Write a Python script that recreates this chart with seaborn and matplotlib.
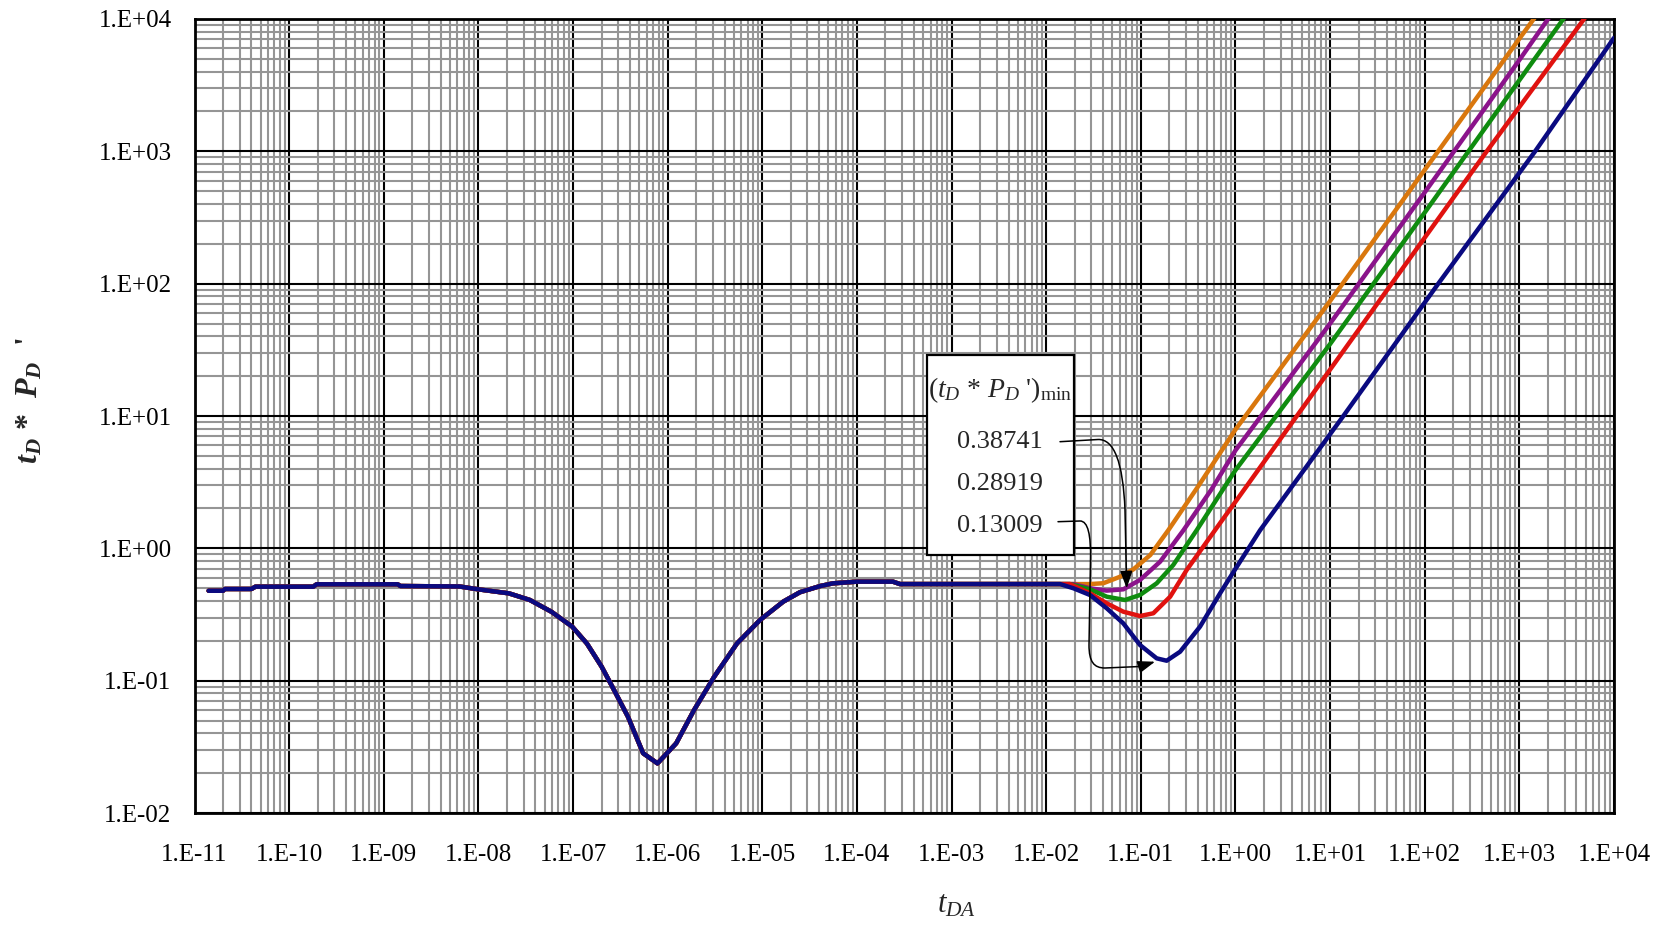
import numpy as np
import pandas as pd
import matplotlib
matplotlib.use("Agg")
import matplotlib.pyplot as plt
import seaborn as sns
from matplotlib.ticker import LogLocator, FuncFormatter, NullFormatter
from matplotlib.patches import Rectangle, FancyArrowPatch
from matplotlib.path import Path

# ---------------- data ----------------
# shared early-time part of all five curves
tda_common = [1.41e-11, 2.0e-11, 2.1e-11, 4.0e-11, 4.4e-11, 1.8e-10, 1.95e-10,
              1.4e-9, 1.5e-9, 6.3e-9, 1.0e-8, 2.1e-8, 3.5e-8, 5.9e-8, 9.8e-8,
              1.4e-7, 2.0e-7, 2.6e-7, 3.8e-7, 5.5e-7, 7.8e-7, 1.23e-6, 1.9e-6,
              3.1e-6, 5.4e-6, 9.5e-6, 1.66e-5, 2.5e-5, 4.1e-5, 5.6e-5, 1.0e-4,
              2.4e-4, 2.85e-4, 1.4e-2]
dp_common = [0.478, 0.478, 0.493, 0.493, 0.513, 0.513, 0.535,
             0.535, 0.519, 0.515, 0.49, 0.457, 0.407, 0.332, 0.256,
             0.191, 0.128, 0.090, 0.0535, 0.0283, 0.0237, 0.0336, 0.060,
             0.107, 0.191, 0.288, 0.395, 0.466, 0.519, 0.544, 0.56,
             0.56, 0.537, 0.537]

# late-time parts
tda_orange = [0.02, 0.029, 0.0402, 0.0603, 0.0834, 0.126, 0.195, 0.398, 1.0, 10.0, 100.0, 1000.0, 2000.0]
dp_orange = [0.537, 0.537, 0.545, 0.61, 0.694, 0.891, 1.37, 2.9, 7.9, 74.0, 725.0, 7100.0, 14000.0]

tda_purple = [0.0194, 0.029, 0.0437, 0.0653, 0.098, 0.16, 0.282, 0.56, 1.0, 10.0, 100.0, 1000.0, 2500.0]
dp_purple = [0.537, 0.499, 0.479, 0.49, 0.577, 0.793, 1.37, 2.8, 5.5, 50.0, 490.0, 4900.0, 12500.0]

tda_green = [0.0178, 0.029, 0.0437, 0.068, 0.098, 0.147, 0.22, 0.389, 1.0, 10.0, 100.0, 1000.0, 3500.0]
dp_green = [0.537, 0.49, 0.431, 0.407, 0.444, 0.544, 0.748, 1.37, 3.9, 35.0, 345.0, 3450.0, 12000.0]

tda_red = [0.0178, 0.029, 0.0437, 0.0653, 0.098, 0.1355, 0.204, 0.305, 0.457, 0.687, 1.0, 4.45, 44.7, 452.0, 4830.0, 6310.0]
dp_red = [0.537, 0.457, 0.384, 0.332, 0.308, 0.323, 0.431, 0.686, 1.03, 1.55, 2.25, 10.0, 100.0, 1000.0, 10000.0, 13000.0]

tda_blue = [0.0194, 0.029, 0.0437, 0.0653, 0.098, 0.147, 0.1875, 0.26, 0.422, 0.687, 1.0, 1.82, 13.8, 139.0, 1466.0, 10000.0]
dp_blue = [0.499, 0.444, 0.352, 0.271, 0.186, 0.1475, 0.1415, 0.1655, 0.256, 0.457, 0.70, 1.37, 10.0, 100.0, 1000.0, 7200.0]

curve_names = ["Orange", "Purple", "Green", "Red", "Blue"]
curve_colors = ["#D9770D", "#8B138B", "#0F8C0F", "#E0120F", "#0A0A80"]
late_t = [tda_orange, tda_purple, tda_green, tda_red, tda_blue]
late_d = [dp_orange, dp_purple, dp_green, dp_red, dp_blue]

box_title = r"$(t_{D}$ * $P_{D}$ '$)_{\mathrm{min}}$"
box_values = ["0.38741", "0.28919", "0.13009"]
x_ticks = [10.0 ** e for e in range(-11, 5)]
y_ticks = [10.0 ** e for e in range(-2, 5)]

# ---------------- style ----------------
sns.set_style("white")
plt.rcParams['font.family'] = ['Liberation Serif', 'DejaVu Serif']
plt.rcParams['mathtext.fontset'] = 'custom'
plt.rcParams['mathtext.rm'] = 'Liberation Serif'
plt.rcParams['mathtext.it'] = 'Liberation Serif:italic'
plt.rcParams['mathtext.bf'] = 'Liberation Serif:bold'
plt.rcParams['mathtext.bfit'] = 'Liberation Serif:italic:bold'

frames = []
for name, tl, dl in zip(curve_names, late_t, late_d):
    t = tda_common + tl
    d = dp_common + dl
    frames.append(pd.DataFrame({"tDA": t, "dP": d, "curve": name}))
df = pd.concat(frames, ignore_index=True)

fig = plt.figure(figsize=(16.67, 9.25), dpi=100)
ax = fig.add_axes([0.11668, 0.12108, 0.85153, 0.85838])
ax.set_xscale("log")
ax.set_yscale("log")

sns.lineplot(data=df, x="tDA", y="dP", hue="curve", hue_order=curve_names,
             palette=dict(zip(curve_names, curve_colors)), estimator=None,
             sort=False, linewidth=3.2, legend=False, ax=ax, zorder=3)

ax.set_xlim(1e-11, 1e4)
ax.set_ylim(1e-2, 1e4)

fmt = FuncFormatter(lambda v, pos: f"1.E{int(round(np.log10(v))):+03d}")
ax.set_xticks(x_ticks)
ax.set_yticks(y_ticks)
for a in (ax.xaxis, ax.yaxis):
    a.set_minor_locator(LogLocator(base=10, subs=np.arange(2, 10), numticks=400))
    a.set_minor_formatter(NullFormatter())
    a.set_major_formatter(fmt)

ax.grid(which="major", color="black", lw=1.5, zorder=1)
ax.grid(which="minor", color="#959595", lw=1.5, zorder=0)
ax.set_axisbelow(True)

ax.tick_params(which="major", direction="out", length=6.5, width=1.4, color="black",
               labelsize=18, labelcolor="black")
ax.tick_params(axis="x", which="major", pad=16)
ax.tick_params(axis="y", which="major", pad=10)
ax.tick_params(which="minor", length=0)
for s in ax.spines.values():
    s.set_color("black")
    s.set_linewidth(2.0)

ax.set_xlabel("")
ax.set_ylabel("")
ax.text(0.537, -0.116, r"$t_{DA}$", transform=ax.transAxes, ha="center", va="center",
        fontsize=22)
ax.text(-0.116, 0.52, r"$\mathbfit{t}_{\mathbfit{D}}$ *  $\mathbfit{P}_{\mathbfit{D}}$  '",
        transform=ax.transAxes, rotation=90, ha="center", va="center",
        fontsize=23, fontweight="bold")

# annotation box
ax.add_patch(Rectangle((0.516, 0.325), 0.1036, 0.252, transform=ax.transAxes,
                       facecolor="white", edgecolor="black", lw=1.6, zorder=5))
ax.text(0.5675, 0.5327, box_title, transform=ax.transAxes, ha="center", va="center",
        fontsize=20, zorder=6)
for val, yy in zip(box_values, [0.4673, 0.4144, 0.3615]):
    ax.text(0.5675, yy, val, transform=ax.transAxes, ha="center", va="center",
            fontsize=19, zorder=6)


# connector arrows (axes-fraction coordinates converted from the reference layout)
def fx(px):
    return (px - 194.5) / 1419.5


def fy(py):
    return (813.0 - py) / 794.0


def arrow_path(pts, codes):
    return Path([(fx(a), fy(b)) for a, b in pts], codes)


p1 = arrow_path([(1060, 441.7), (1098, 439.5), (1114, 439), (1123, 462), (1125, 510),
                 (1126.7, 588.3)],
                [Path.MOVETO, Path.LINETO, Path.CURVE4, Path.CURVE4, Path.CURVE4, Path.LINETO])
p2 = arrow_path([(1058, 521.7), (1080, 521), (1088, 521), (1091, 535), (1090.5, 560),
                 (1089, 645), (1089, 662), (1094, 668), (1105, 668), (1140, 666.5),
                 (1155, 661.7)],
                [Path.MOVETO, Path.LINETO, Path.CURVE4, Path.CURVE4, Path.CURVE4,
                 Path.LINETO, Path.CURVE4, Path.CURVE4, Path.CURVE4, Path.LINETO, Path.LINETO])
for p in (p1, p2):
    ax.add_patch(FancyArrowPatch(path=p, transform=ax.transAxes,
                                 arrowstyle="-|>,head_length=0.7,head_width=0.25",
                                 mutation_scale=15, color="black", lw=1.1,
                                 shrinkA=0, shrinkB=0, zorder=6))

fig.savefig("out.png", dpi=100)
